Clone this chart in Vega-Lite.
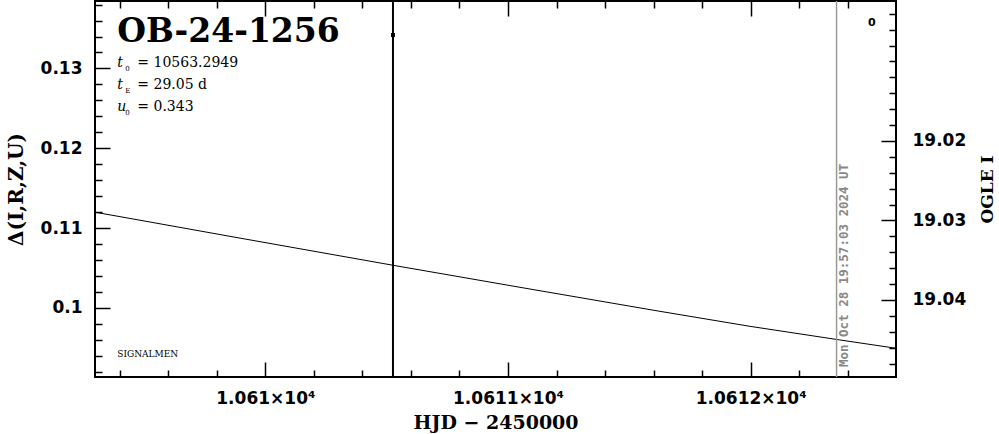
{
  "$schema": "https://vega.github.io/schema/vega-lite/v6.json",
  "width": 801,
  "height": 376,
  "autosize": {"type": "none"},
  "padding": {"left": 95, "top": 1, "right": 103, "bottom": 57},
  "background": "white",
  "config": {
    "view": {"stroke": "black", "strokeWidth": 2},
    "axis": {
      "domain": false,
      "grid": false,
      "tickColor": "black",
      "tickWidth": 1.5,
      "labelColor": "black",
      "titleColor": "black",
      "labelOverlap": false,
      "labelFlush": false,
      "labelBound": false
    }
  },
  "datasets": {
    "model": [
      {"hjd": 10609.298, "delta": 0.11199},
      {"hjd": 10609.916, "delta": 0.10863},
      {"hjd": 10610.526, "delta": 0.10534},
      {"hjd": 10611.070, "delta": 0.10247},
      {"hjd": 10611.618, "delta": 0.09961},
      {"hjd": 10611.997, "delta": 0.09769},
      {"hjd": 10612.368, "delta": 0.09598},
      {"hjd": 10612.599, "delta": 0.09494}
    ],
    "errbar": [{"hjd": 10610.526, "delta": 0.05, "delta2": 0.2}],
    "obs": [{"hjd": 10610.526, "delta": 0.13419}],
    "now": [{"hjd": 10612.354, "delta": 0.05, "delta2": 0.2}],
    "nowlabel": [{"hjd": 10612.354, "delta": 0.09259, "text": "Mon Oct 28 19:57:03 2024 UT"}],
    "title": [{"hjd": 10609.390, "delta": 0.13335, "text": "OB-24-1256"}],
    "params": [
      {"hjd": 10609.390, "delta": 0.13022, "sym": "t", "sub": "0", "rest": "= 10563.2949"},
      {"hjd": 10609.390, "delta": 0.12743, "sym": "t", "sub": "E", "rest": "= 29.05 d"},
      {"hjd": 10609.390, "delta": 0.12467, "sym": "u", "sub": "0", "rest": "= 0.343"}
    ],
    "signal": [{"hjd": 10609.390, "delta": 0.09381, "text": "SIGNALMEN"}],
    "legend0": [{"hjd": 10612.499, "delta": 0.13566, "text": "0"}],
    "mag": [{"hjd": 10610, "mag": 19.02}, {"hjd": 10612, "mag": 19.04}]
  },
  "resolve": {"scale": {"y": "independent"}, "axis": {"x": "independent", "y": "independent"}},
  "layer": [
    {
      "encoding": {
        "x": {
          "field": "hjd",
          "type": "quantitative",
          "scale": {"domain": [10609.298, 10612.599], "nice": false, "zero": false},
          "axis": {
            "orient": "bottom",
            "title": "HJD − 2450000",
            "values": [10609.4, 10609.6, 10609.8, 10610, 10610.2, 10610.4, 10610.6, 10610.8, 10611, 10611.2, 10611.4, 10611.6, 10611.8, 10612, 10612.2, 10612.4],
            "tickSize": {"condition": {"test": "abs(datum.value - round(datum.value)) < 0.01", "value": -15}, "value": -7},
            "labelExpr": "abs(datum.value - round(datum.value)) < 0.01 ? format(datum.value / 10000, '.4~f') + '×10⁴' : ''",
            "labelFont": "DejaVu Sans",
            "labelFontWeight": "bold",
            "labelFontSize": 17,
            "labelPadding": 28,
            "titleFont": "DejaVu Serif",
            "titleFontWeight": "bold",
            "titleFontSize": 19,
            "titlePadding": -1
          }
        },
        "y": {
          "field": "delta",
          "type": "quantitative",
          "scale": {"domain": [0.09134, 0.13845], "nice": false, "zero": false},
          "axis": {
            "orient": "left",
            "title": "Δ(I,R,Z,U)",
            "values": [0.092, 0.094, 0.096, 0.098, 0.1, 0.102, 0.104, 0.106, 0.108, 0.11, 0.112, 0.114, 0.116, 0.118, 0.12, 0.122, 0.124, 0.126, 0.128, 0.13, 0.132, 0.134, 0.136, 0.138],
            "tickSize": {"condition": {"test": "abs(datum.value * 100 - round(datum.value * 100)) < 0.01", "value": -15}, "value": -7},
            "labelExpr": "abs(datum.value * 100 - round(datum.value * 100)) < 0.01 ? format(datum.value, '.2~f') : ''",
            "labelFont": "DejaVu Sans",
            "labelFontWeight": "bold",
            "labelFontSize": 17,
            "labelPadding": 28,
            "titleFont": "DejaVu Serif",
            "titleFontWeight": "bold",
            "titleFontSize": 20,
            "titlePadding": 14
          }
        }
      },
      "layer": [
        {
          "data": {"name": "model"},
          "mark": {"type": "line", "color": "black", "strokeWidth": 1, "clip": true}
        },
        {
          "data": {"name": "errbar"},
          "mark": {"type": "rule", "color": "black", "strokeWidth": 2, "clip": true},
          "encoding": {"y2": {"field": "delta2"}}
        },
        {
          "data": {"name": "obs"},
          "mark": {"type": "square", "color": "black", "filled": true, "opacity": 1, "size": 16}
        },
        {
          "data": {"name": "now"},
          "mark": {"type": "rule", "color": "#999999", "strokeWidth": 1.5, "clip": true},
          "encoding": {"y2": {"field": "delta2"}}
        },
        {
          "data": {"name": "nowlabel"},
          "mark": {"type": "text", "angle": 270, "align": "left", "baseline": "top", "dy": 1, "font": "DejaVu Sans Mono", "fontWeight": "bold", "fontSize": 12.5, "color": "#888888"},
          "encoding": {"text": {"field": "text"}}
        },
        {
          "data": {"name": "title"},
          "mark": {"type": "text", "align": "left", "baseline": "alphabetic", "font": "DejaVu Serif", "fontWeight": "bold", "fontSize": 33, "color": "black"},
          "encoding": {"text": {"field": "text"}}
        },
        {
          "data": {"name": "params"},
          "mark": {"type": "text", "align": "left", "baseline": "alphabetic", "font": "DejaVu Serif", "fontStyle": "italic", "fontSize": 14, "color": "black"},
          "encoding": {"text": {"field": "sym"}}
        },
        {
          "data": {"name": "params"},
          "mark": {"type": "text", "align": "left", "baseline": "alphabetic", "dx": 8, "dy": 4, "font": "DejaVu Serif", "fontSize": 7, "color": "black"},
          "encoding": {"text": {"field": "sub"}}
        },
        {
          "data": {"name": "params"},
          "mark": {"type": "text", "align": "left", "baseline": "alphabetic", "dx": 20, "font": "DejaVu Serif", "fontSize": 14, "color": "black"},
          "encoding": {"text": {"field": "rest"}}
        },
        {
          "data": {"name": "signal"},
          "mark": {"type": "text", "align": "left", "baseline": "alphabetic", "font": "DejaVu Serif", "fontSize": 9, "color": "black"},
          "encoding": {"text": {"field": "text"}}
        },
        {
          "data": {"name": "legend0"},
          "mark": {"type": "text", "align": "center", "baseline": "middle", "font": "DejaVu Sans", "fontWeight": "bold", "fontSize": 11, "color": "black"},
          "encoding": {"text": {"field": "text"}}
        }
      ]
    },
    {
      "data": {"name": "mag"},
      "mark": {"type": "point", "opacity": 0},
      "encoding": {
        "x": {
          "field": "hjd",
          "type": "quantitative",
          "scale": {"domain": [10609.298, 10612.599], "nice": false, "zero": false},
          "axis": {
            "orient": "top",
            "title": null,
            "labels": false,
            "values": [10609.4, 10609.6, 10609.8, 10610, 10610.2, 10610.4, 10610.6, 10610.8, 10611, 10611.2, 10611.4, 10611.6, 10611.8, 10612, 10612.2, 10612.4],
            "tickSize": {"condition": {"test": "abs(datum.value - round(datum.value)) < 0.01", "value": -15}, "value": -7}
          }
        },
        "y": {
          "field": "mag",
          "type": "quantitative",
          "scale": {"domain": [19.00239, 19.04969], "reverse": true, "nice": false, "zero": false},
          "axis": {
            "orient": "right",
            "title": "OGLE I",
            "titleAngle": 270,
            "titleBaseline": "top",
            "values": [19.004, 19.006, 19.008, 19.01, 19.012, 19.014, 19.016, 19.018, 19.02, 19.022, 19.024, 19.026, 19.028, 19.03, 19.032, 19.034, 19.036, 19.038, 19.04, 19.042, 19.044, 19.046, 19.048],
            "tickSize": {"condition": {"test": "abs(datum.value * 100 - round(datum.value * 100)) < 0.01 && datum.value > 19.015", "value": -15}, "value": -7},
            "labelExpr": "abs(datum.value * 100 - round(datum.value * 100)) < 0.01 && datum.value > 19.015 ? format(datum.value, '.2f') : ''",
            "labelFont": "DejaVu Sans",
            "labelFontWeight": "bold",
            "labelFontSize": 17,
            "labelPadding": 31,
            "titleFont": "DejaVu Serif",
            "titleFontWeight": "bold",
            "titleFontSize": 17,
            "titlePadding": 14
          }
        }
      }
    }
  ]
}
